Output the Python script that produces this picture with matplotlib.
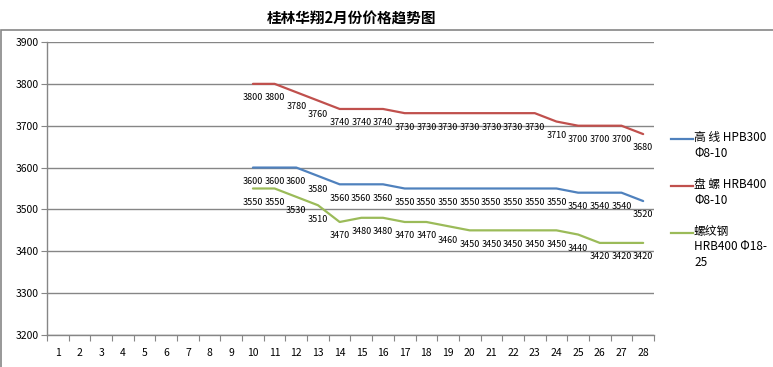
import matplotlib
matplotlib.use("Agg")
import matplotlib.pyplot as plt
from matplotlib.lines import Line2D
from matplotlib.patches import Rectangle

plt.rcParams["font.family"] = ["Noto Sans CJK SC", "DejaVu Sans"]

title = "桂林华翔2月份价格趋势图"
days = list(range(1, 29))
data_days = list(range(10, 29))

wire = [3600, 3600, 3600, 3580, 3560, 3560, 3560, 3550, 3550, 3550, 3550,
        3550, 3550, 3550, 3550, 3540, 3540, 3540, 3520]
coil = [3800, 3800, 3780, 3760, 3740, 3740, 3740, 3730, 3730, 3730, 3730,
        3730, 3730, 3730, 3710, 3700, 3700, 3700, 3680]
rebar = [3550, 3550, 3530, 3510, 3470, 3480, 3480, 3470, 3470, 3460, 3450,
         3450, 3450, 3450, 3450, 3440, 3420, 3420, 3420]

series_names = ["高 线 HPB300\nΦ8-10", "盘 螺 HRB400\nΦ8-10", "螺纹钢\nHRB400 Φ18-\n25"]
series_values = [wire, coil, rebar]
colors = ["#4F81BD", "#C0504D", "#9BBB59"]
y_ticks = [3200, 3300, 3400, 3500, 3600, 3700, 3800, 3900]

W, H = 773, 367
fig = plt.figure(figsize=(W / 100, H / 100), dpi=100)

# outer chart border (cropped Excel chart)
fig.patches.append(Rectangle((1 / W, -0.1), 1.2, (H - 30) / H + 0.1,
                             transform=fig.transFigure, fill=False,
                             edgecolor="#868686", linewidth=1.2))

left, right, top, bottom = 47, 654, 42, 335
ax = fig.add_axes([left / W, 1 - bottom / H, (right - left) / W, (bottom - top) / H])

grid_c = "#868686"
ax.set_xlim(0.5, 28.5)
ax.set_ylim(3200, 3900)
ax.set_yticks(y_ticks)
ax.yaxis.grid(True, color=grid_c, linewidth=1.0)
ax.set_axisbelow(True)
for s in ["top", "right"]:
    ax.spines[s].set_visible(False)
for s in ["left", "bottom"]:
    ax.spines[s].set_color(grid_c)
    ax.spines[s].set_linewidth(1.0)

ax.set_xticks([d + 0.5 for d in [0] + days])
ax.set_xticklabels([])
ax.set_xticks(days, minor=True)
ax.set_xticklabels([str(d) for d in days], minor=True)
ax.tick_params(axis="x", which="major", length=4, color=grid_c, direction="out")
ax.tick_params(axis="x", which="minor", length=0, pad=9, labelsize=7.5)
ax.tick_params(axis="y", length=4, color=grid_c, labelsize=7.5, pad=2)

for vals, color in zip(series_values, colors):
    ax.plot(data_days, vals, color=color, linewidth=1.6, solid_capstyle="round")
    for d, v in zip(data_days, vals):
        ax.annotate(str(v), (d, v), xytext=(0, -10), textcoords="offset points",
                    ha="center", va="center", fontsize=6.5, color="black")

fig.text(352 / W, 1 - 19 / H, title, ha="center", va="center",
         fontsize=10.5, fontweight="bold")

# legend
legend_y = [139, 186, 233]
for name, color, y in zip(series_names, colors, legend_y):
    fig.lines.append(Line2D([671 / W, 693 / W], [1 - y / H, 1 - y / H],
                            transform=fig.transFigure, color=color, linewidth=1.6))
    fig.text(694 / W, 1 - (y - 8) / H, name, ha="left", va="top",
             fontsize=8.5, linespacing=1.25)

fig.savefig("out.png", dpi=100)
